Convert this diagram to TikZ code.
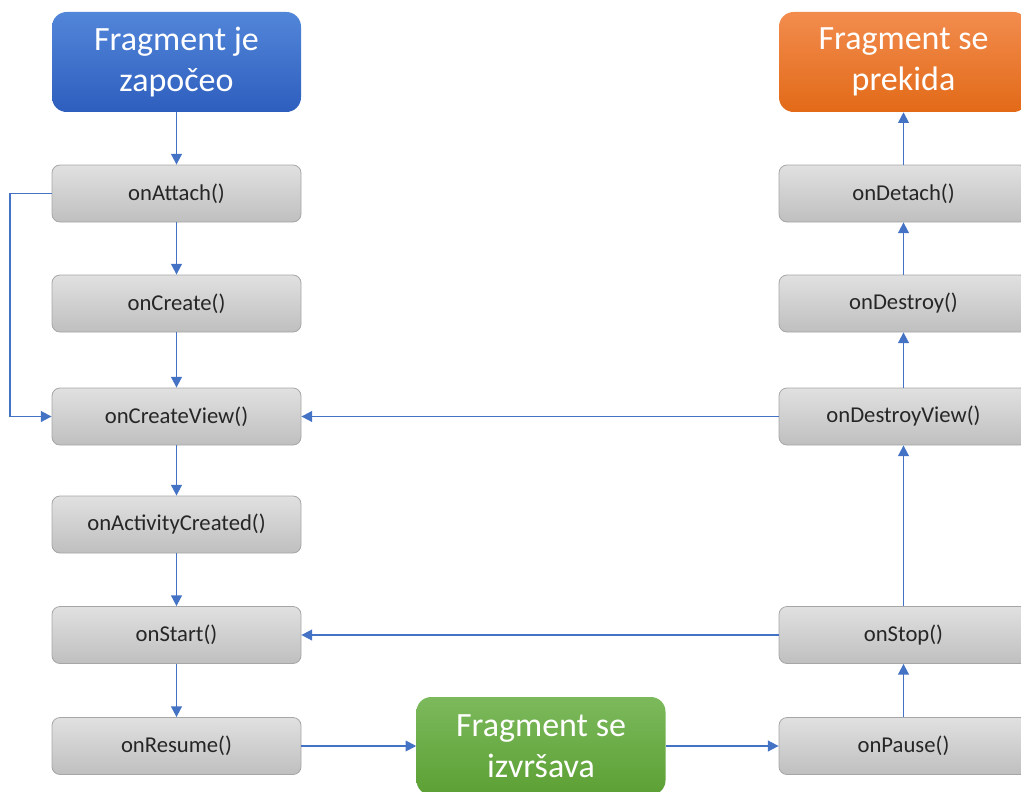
\documentclass[tikz,border=0pt]{standalone}
\usepackage{fontspec}
\setmainfont{Carlito}
\usepackage{xcolor}
\usepackage{tikz}
\usetikzlibrary{arrows.meta}

\definecolor{arrowblue}{HTML}{4472C4}
\definecolor{boxline}{HTML}{A6A6A6}
\tikzset{
    every node/.style={font=\fontsize{17}{20}\selectfont},
    stage/.style={draw=boxline,
        rounded corners=6pt,
        top color=black!12,
        bottom color=black!25,
        text=black!85,
        minimum width=186.75pt,
        minimum height=42.75pt,
        line width=0.6pt},
    state/.style={rounded corners=11pt,
        text=white,
        align=center,
        minimum width=186.75pt,
        minimum height=75pt,
        font=\fontsize{25.5}{31}\selectfont},
    flow/.style={draw=arrowblue,
        line width=1.3pt,
        -{Triangle[length=8pt,width=8pt]}}
}

\begin{document}
\begin{tikzpicture}[x=0.75pt,y=-0.75pt]
    \useasboundingbox (0,0) rectangle (1021,792);
    % start and end states
    \node [state,
        top color={rgb,255:red,82;green,134;blue,217},
        bottom color={rgb,255:red,46;green,94;blue,190}] (begun) at (176.5,62) {Fragment je\\započeo};
    \node [state,
        top color={rgb,255:red,242;green,140;blue,78},
        bottom color={rgb,255:red,226;green,106;blue,24}] (ended) at (903.5,62) {Fragment se\\prekida};
    \node [state,
        minimum height=73.5pt,
        top color={rgb,255:red,124;green,185;blue,92},
        bottom color={rgb,255:red,92;green,160;blue,52}] (running) at (541,746) {Fragment se\\izvršava};
    % left column
    \node [stage] (attach) at (176.5,193.5) {onAttach()};
    \node [stage] (create) at (176.5,303.5) {onCreate()};
    \node [stage] (createview) at (176.5,416.5) {onCreateView()};
    \node [stage] (actcreated) at (176.5,524.5) {onActivityCreated()};
    \node [stage] (start) at (176.5,635) {onStart()};
    \node [stage] (resume) at (176.5,746) {onResume()};
    % right column
    \node [stage] (pause) at (903.5,746) {onPause()};
    \node [stage] (stop) at (903.5,635) {onStop()};
    \node [stage] (destroyview) at (903.5,416.5) {onDestroyView()};
    \node [stage] (destroy) at (903.5,303.5) {onDestroy()};
    \node [stage] (detach) at (903.5,193.5) {onDetach()};
    \coordinate (loop) at (10,0);
    % connectors
    \draw [flow] (begun) -- (attach);
    \draw [flow] (attach) -- (create);
    \draw [flow] (create) -- (createview);
    \draw [flow] (createview) -- (actcreated);
    \draw [flow] (actcreated) -- (start);
    \draw [flow] (start) -- (resume);
    \draw [flow] (resume) -- (running);
    \draw [flow] (running) -- (pause);
    \draw [flow] (pause) -- (stop);
    \draw [flow] (stop) -- (destroyview);
    \draw [flow] (destroyview) -- (destroy);
    \draw [flow] (destroy) -- (detach);
    \draw [flow] (detach) -- (ended);
    \draw [flow] (stop) -- (start);
    \draw [flow] (destroyview) -- (createview);
    \draw [flow] (attach.west) -- (attach.west -| loop) |- (createview.west);
\end{tikzpicture}
\end{document}
